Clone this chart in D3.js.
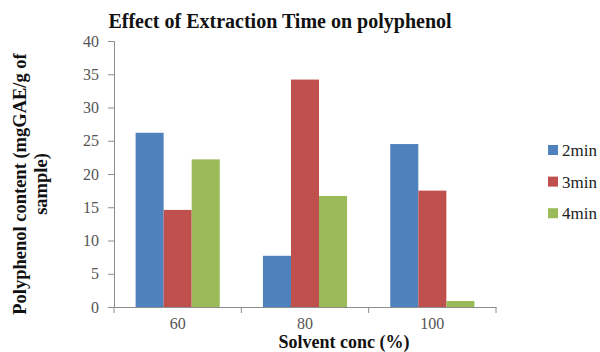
<!DOCTYPE html>
<html>
<head>
<meta charset="utf-8">
<script src="https://cdn.jsdelivr.net/npm/d3@7/dist/d3.min.js"></script>
<style>
  html, body { margin: 0; padding: 0; background: #fff; }
  svg { display: block; }
</style>
</head>
<body>
<svg id="chart" width="600" height="352"></svg>
<script>
// Solvent concentration groups and extraction-time series
const categories = ["60", "80", "100"];
const seriesNames = ["2min", "3min", "4min"];
const values2min = [26.2, 7.7, 24.5];
const values3min = [14.6, 34.2, 17.5];
const values4min = [22.2, 16.7, 0.9];
const yTicks = [0, 5, 10, 15, 20, 25, 30, 35, 40];
const colors = ["#4F81BD", "#C0504D", "#9BBB59"];

const SERIF = "'Liberation Serif', 'Times New Roman', serif";

const seriesValues = [values2min, values3min, values4min];
const rows = categories.map((c, i) => ({
  cat: c,
  vals: seriesNames.map((s, j) => ({ key: s, value: seriesValues[j][i], color: colors[j] }))
}));

const svg = d3.select("#chart");
const plot = { left: 114, right: 496, top: 41, bottom: 307 };

const x0 = d3.scaleBand().domain(categories).range([plot.left, plot.right]).padding(0);
const x1 = d3.scaleBand().domain(seriesNames).range([0, x0.bandwidth()]).paddingInner(0).paddingOuter(0.77);
const y = d3.scaleLinear().domain([0, 40]).range([plot.bottom, plot.top]);

// Title
svg.append("text")
  .attr("x", 280).attr("y", 28)
  .attr("text-anchor", "middle")
  .style("font-family", SERIF)
  .attr("font-size", 20).attr("font-weight", "bold")
  .attr("fill", "#111")
  .text("Effect of Extraction Time on polyphenol");

// Bars
const groups = svg.append("g").selectAll("g").data(rows).join("g")
  .attr("transform", d => `translate(${x0(d.cat)},0)`);
groups.selectAll("rect").data(d => d.vals).join("rect")
  .attr("x", d => x1(d.key))
  .attr("width", x1.bandwidth())
  .attr("y", d => y(d.value))
  .attr("height", d => y(0) - y(d.value))
  .attr("fill", d => d.color);

// Y axis
const yAxis = d3.axisLeft(y).tickValues(yTicks).tickSize(6).tickPadding(9);
const gy = svg.append("g").attr("transform", `translate(${plot.left},0)`).call(yAxis);
gy.select(".domain").attr("stroke", "#8c8c8c");
gy.selectAll(".tick line").attr("stroke", "#8c8c8c");
gy.selectAll(".tick text")
  .style("font-family", SERIF)
  .attr("font-size", 16).attr("fill", "#555");

// X axis: ticks at category boundaries
const xAxis = d3.axisBottom(x0).tickSize(0).tickPadding(11);
const gx = svg.append("g").attr("transform", `translate(0,${plot.bottom})`).call(xAxis);
gx.select(".domain").attr("stroke", "#8c8c8c");
gx.selectAll(".tick text")
  .style("font-family", SERIF)
  .attr("font-size", 16).attr("fill", "#555");
const bounds = categories.map(c => x0(c)).concat([x0(categories[categories.length - 1]) + x0.bandwidth()]);
gx.selectAll(".bound").data(bounds).join("line")
  .attr("class", "bound")
  .attr("x1", d => d).attr("x2", d => d)
  .attr("y1", 0).attr("y2", 6)
  .attr("stroke", "#8c8c8c");

// X axis title
svg.append("text")
  .attr("x", 344).attr("y", 348)
  .attr("text-anchor", "middle")
  .style("font-family", SERIF)
  .attr("font-size", 18).attr("font-weight", "bold")
  .attr("fill", "#111")
  .text("Solvent conc (%)");

// Y axis title (two lines)
const yTitle = svg.append("text")
  .attr("transform", "translate(26,184) rotate(-90)")
  .attr("text-anchor", "middle")
  .style("font-family", SERIF)
  .attr("font-size", 18.5).attr("font-weight", "bold")
  .attr("fill", "#111");
yTitle.append("tspan").attr("x", 0).attr("y", 0).text("Polyphenol content (mgGAE/g of");
yTitle.append("tspan").attr("x", 0).attr("y", 21).text("sample)");

// Legend
const legend = svg.append("g").selectAll("g").data(seriesNames).join("g")
  .attr("transform", (d, i) => `translate(548,${150 + i * 31.6})`);
legend.append("rect")
  .attr("x", 0).attr("y", -5).attr("width", 10).attr("height", 10)
  .attr("fill", (d, i) => colors[i]);
legend.append("text")
  .attr("x", 14).attr("y", 6)
  .style("font-family", SERIF)
  .attr("font-size", 17).attr("fill", "#222")
  .text(d => d);
</script>
</body>
</html>
